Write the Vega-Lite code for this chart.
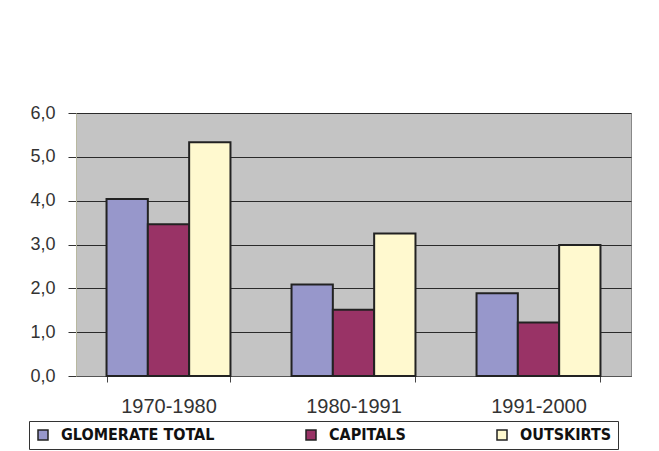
{
  "$schema": "https://vega.github.io/schema/vega-lite/v6.json",
  "width": 555,
  "height": 263,
  "autosize": {"type": "none"},
  "padding": {"left": 76, "top": 113, "right": 28, "bottom": 75},
  "background": "white",
  "data": {
    "values": [
      {"period": "1970-1980", "series": "GLOMERATE TOTAL", "value": 4.04},
      {"period": "1970-1980", "series": "CAPITALS", "value": 3.46},
      {"period": "1970-1980", "series": "OUTSKIRTS", "value": 5.33},
      {"period": "1980-1991", "series": "GLOMERATE TOTAL", "value": 2.09},
      {"period": "1980-1991", "series": "CAPITALS", "value": 1.51},
      {"period": "1980-1991", "series": "OUTSKIRTS", "value": 3.25},
      {"period": "1991-2000", "series": "GLOMERATE TOTAL", "value": 1.89},
      {"period": "1991-2000", "series": "CAPITALS", "value": 1.22},
      {"period": "1991-2000", "series": "OUTSKIRTS", "value": 2.99}
    ]
  },
  "mark": {"type": "bar", "stroke": "#222222", "strokeWidth": 2},
  "encoding": {
    "x": {
      "field": "period",
      "type": "nominal",
      "sort": null,
      "scale": {"paddingInner": 0.33, "paddingOuter": 0.165},
      "axis": {
        "title": null,
        "labelAngle": 0,
        "labelFont": "Liberation Sans",
        "labelFontSize": 20,
        "labelColor": "#333333",
        "labelPadding": 14,
        "tickBand": "extent",
        "tickSize": 6,
        "tickColor": "#444444",
        "domainColor": "#555555",
        "grid": false
      }
    },
    "xOffset": {
      "field": "series",
      "type": "nominal",
      "sort": ["GLOMERATE TOTAL", "CAPITALS", "OUTSKIRTS"],
      "scale": {"paddingInner": 0, "paddingOuter": 0}
    },
    "y": {
      "field": "value",
      "type": "quantitative",
      "scale": {"domain": [0, 6], "nice": false},
      "axis": {
        "title": null,
        "values": [0, 1, 2, 3, 4, 5, 6],
        "labelExpr": "replace(format(datum.value, '.1f'), '.', ',')",
        "labelFont": "Liberation Sans",
        "labelFontSize": 18,
        "labelColor": "#333333",
        "labelPadding": 13,
        "tickSize": 8,
        "tickColor": "#333333",
        "domainColor": "#b8b8a0",
        "grid": true,
        "gridColor": "#2a2a2a",
        "gridWidth": 1
      }
    },
    "fill": {
      "field": "series",
      "type": "nominal",
      "sort": ["GLOMERATE TOTAL", "CAPITALS", "OUTSKIRTS"],
      "scale": {
        "domain": ["GLOMERATE TOTAL", "CAPITALS", "OUTSKIRTS"],
        "range": ["#9797cb", "#993366", "#fff9cf"]
      },
      "legend": {
        "title": null,
        "orient": "none",
        "legendX": -47,
        "legendY": 308,
        "direction": "horizontal",
        "symbolType": "square",
        "symbolSize": 100,
        "symbolStrokeColor": "#222222",
        "symbolStrokeWidth": 1.5,
        "labelFont": "Liberation Sans Narrow, DejaVu Sans Condensed, Liberation Sans",
        "labelFontWeight": "bold",
        "labelFontSize": 16,
        "labelColor": "#111111",
        "labelOffset": 10,
        "columnPadding": 88,
        "strokeColor": "#333333",
        "padding": 6,
        "fillColor": "white",
        "labelLimit": 300
      }
    }
  },
  "config": {
    "view": {"fill": "#c4c4c4", "stroke": "#888888", "strokeWidth": 1}
  }
}
